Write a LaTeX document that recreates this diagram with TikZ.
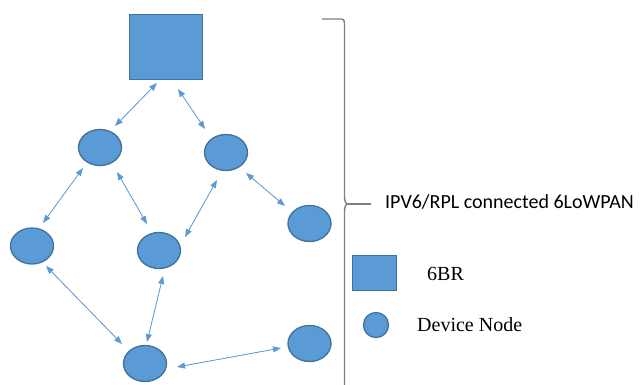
\documentclass[tikz,border=0pt]{standalone}
\usepackage{fontspec}
\setmainfont{Liberation Serif}
\newfontfamily\calib{Carlito}
\usetikzlibrary{shapes.geometric,arrows.meta}
\definecolor{nodefill}{HTML}{5B9BD5}
\definecolor{nodeline}{HTML}{41719C}
\definecolor{bracecol}{HTML}{7F7F7F}
\tikzset{
  dev/.style={ellipse,fill=nodefill,draw=nodeline,line width=1.3pt,minimum width=43pt,minimum height=36pt,inner sep=0pt},
  br/.style={rectangle,fill=nodefill,draw=nodeline,line width=1.3pt,inner sep=0pt},
  arr/.style={draw=nodefill,fill=nodefill,line width=0.8pt,{Triangle[length=8pt,width=6pt]}-{Triangle[length=8pt,width=6pt]}},
  lbl/.style={inner sep=0pt,anchor=base west,font=\fontsize{20}{24}\selectfont}
}
\begin{document}
\begin{tikzpicture}[x=1pt,y=-1pt]
\useasboundingbox (0,0) rectangle (641,385);
% network
\node[br,minimum width=73pt,minimum height=65pt] (sq) at (166,47) {};
\node[dev] (A) at (100,147.5) {};
\node[dev] (B) at (226,152.5) {};
\node[dev] (C) at (32,246) {};
\node[dev] (D) at (159,250.5) {};
\node[dev] (E) at (309.5,223.5) {};
\node[dev] (F) at (309.5,343.5) {};
\node[dev] (G) at (145,363.5) {};
% connectors
\draw[arr] ([shift={(-9,36)}]sq.center) -- ([shift={(15,-21.5)}]A.center);
\draw[arr] ([shift={(12,42)}]sq.center) -- ([shift={(-21,-23.5)}]B.center);
\draw[arr] ([shift={(-17,20.5)}]A.center) -- ([shift={(11,-23)}]C.center);
\draw[arr] ([shift={(17,24.5)}]A.center) -- ([shift={(-12,-26.5)}]D.center);
\draw[arr] ([shift={(-9,27.5)}]B.center) -- ([shift={(26,-13.5)}]D.center);
\draw[arr] ([shift={(20,20.5)}]B.center) -- ([shift={(-24.5,-17.5)}]E.center);
\draw[arr] ([shift={(14,20)}]C.center) -- ([shift={(-23,-19.5)}]G.center);
\draw[arr] ([shift={(4,25.5)}]D.center) -- ([shift={(2,-21.5)}]G.center);
\draw[arr] ([shift={(32,3.5)}]G.center) -- ([shift={(-28.5,4.5)}]F.center);
% brace
\draw[bracecol,line width=1.4pt] (322,19) -- (341,19) .. controls (343.5,19) and (344.5,20) .. (344.5,23)
  -- (344.5,196) .. controls (344.5,201) and (345.5,204) .. (348,204)
  .. controls (345.5,204) and (344.5,207) .. (344.5,212) -- (344.5,390);
\draw[bracecol,line width=1.2pt] (347,204) -- (371,204);
\node[lbl,font=\calib\fontsize{20}{24}\selectfont] (net) at (385,208.5) {IPV6/RPL connected 6LoWPAN};
% legend
\node[br,minimum width=44pt,minimum height=35pt] (lsq) at (374.5,273) {};
\node[lbl] (lbr) at (427,281) {6BR};
\node[circle,fill=nodefill,draw=nodeline,line width=1.3pt,minimum size=25pt,inner sep=0pt] (lci) at (376,325) {};
\node[lbl] (ldn) at (417,331) {Device Node};
\end{tikzpicture}
\end{document}
